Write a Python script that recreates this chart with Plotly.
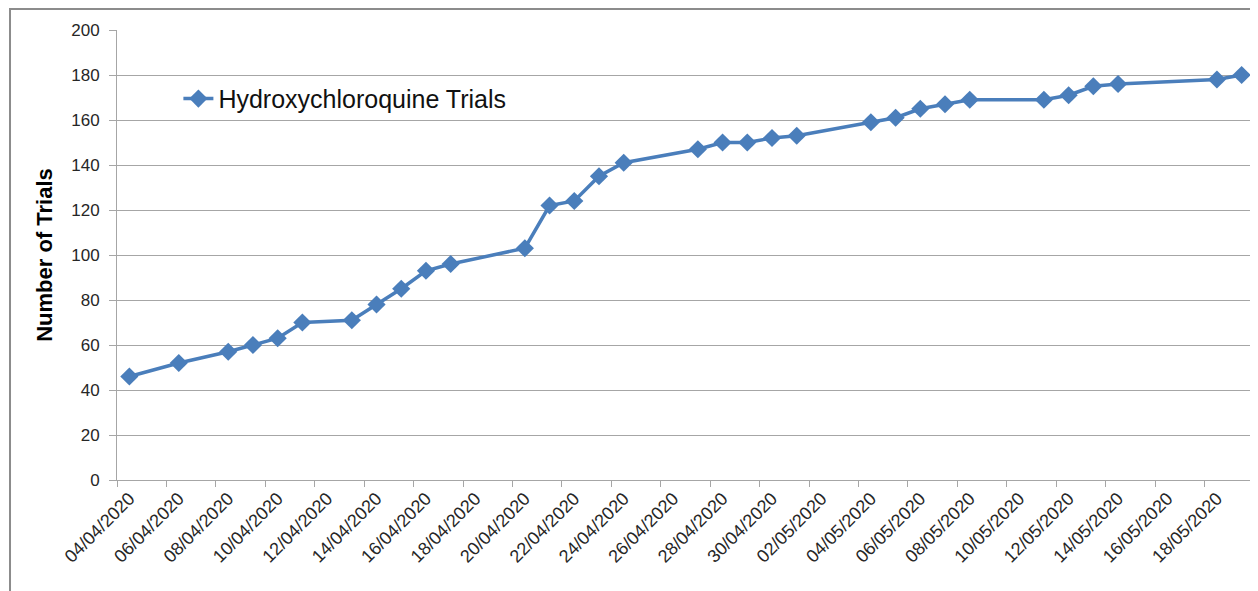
import plotly.graph_objects as go
import pandas as pd

dates = ["04/04/2020", "06/04/2020", "08/04/2020", "09/04/2020", "10/04/2020", "11/04/2020",
         "13/04/2020", "14/04/2020", "15/04/2020", "16/04/2020", "17/04/2020", "20/04/2020",
         "21/04/2020", "22/04/2020", "23/04/2020", "24/04/2020", "27/04/2020", "28/04/2020",
         "29/04/2020", "30/04/2020", "01/05/2020", "04/05/2020", "05/05/2020", "06/05/2020",
         "07/05/2020", "08/05/2020", "11/05/2020", "12/05/2020", "13/05/2020", "14/05/2020",
         "18/05/2020", "19/05/2020"]
trials = [46, 52, 57, 60, 63, 70, 71, 78, 85, 93, 96, 103, 122, 124, 135, 141, 147, 150,
          150, 152, 153, 159, 161, 165, 167, 169, 169, 171, 175, 176, 178, 180]

tick_labels = ["04/04/2020", "06/04/2020", "08/04/2020", "10/04/2020", "12/04/2020", "14/04/2020",
               "16/04/2020", "18/04/2020", "20/04/2020", "22/04/2020", "24/04/2020", "26/04/2020",
               "28/04/2020", "30/04/2020", "02/05/2020", "04/05/2020", "06/05/2020", "08/05/2020",
               "10/05/2020", "12/05/2020", "14/05/2020", "16/05/2020", "18/05/2020"]

series_name = "Hydroxychloroquine Trials"
y_title = "Number of Trials"

# Excel date axis: each day occupies a slot, points/labels sit at slot centre
half_day = pd.Timedelta(hours=12)
x_pts = pd.to_datetime(dates, format="%d/%m/%Y") + half_day
tick_pos = pd.to_datetime(tick_labels, format="%d/%m/%Y") + half_day
x_start = pd.to_datetime(tick_labels[0], format="%d/%m/%Y")
x_end = pd.to_datetime("20/05/2020", format="%d/%m/%Y")

blue = "#4A7EBB"
grid = "#A6A6A6"
font_fam = "Liberation Sans, Arial, sans-serif"

fig = go.Figure()
fig.add_trace(go.Scatter(
    x=x_pts, y=trials, mode="lines+markers", name=series_name,
    line=dict(color=blue, width=3.5),
    marker=dict(symbol="diamond", size=14, color=blue),
    showlegend=True,
))

# page has an 8px body margin, so the figure is 8px smaller and margins shifted
fig.update_layout(
    width=1250, height=583,
    margin=dict(l=109, r=4, t=22, b=111),
    paper_bgcolor="white", plot_bgcolor="white",
    font=dict(family=font_fam, color="#262626"),
    showlegend=True,
    legend=dict(x=0.054, y=0.847, xanchor="left", yanchor="middle",
                bgcolor="rgba(0,0,0,0)", font=dict(size=25, color="#111111", family=font_fam)),
    xaxis=dict(
        type="date", range=[x_start, x_end],
        tickmode="array", tickvals=tick_pos, ticktext=tick_labels,
        tickangle=-45, tickfont=dict(size=18, color="#262626"),
        ticks="", showgrid=False, zeroline=False,
        showline=True, linecolor=grid, linewidth=1,
        minor=dict(ticks="outside", tick0=x_start, dtick=2 * 86400000,
                   ticklen=6, tickcolor=grid, tickwidth=1, showgrid=False),
    ),
    yaxis=dict(
        range=[0, 200], dtick=20, tick0=0,
        tickfont=dict(size=17, color="#262626"),
        ticks="outside", ticklen=7, tickcolor=grid, ticklabelstandoff=6,
        showgrid=True, gridcolor=grid, gridwidth=1,
        showline=True, linecolor=grid, linewidth=1, zeroline=False,
        title=dict(text="<b>" + y_title + "</b>", font=dict(size=22, color="black", family=font_fam),
                   standoff=12),
    ),
    shapes=[dict(type="rect", xref="paper", yref="paper",
                 x0=-0.0941, x1=1.5, y0=-0.6, y1=1.0467,
                 line=dict(color="#8C8C8C", width=2), fillcolor="rgba(0,0,0,0)", layer="below")],
)

fig.write_html("out.html")
